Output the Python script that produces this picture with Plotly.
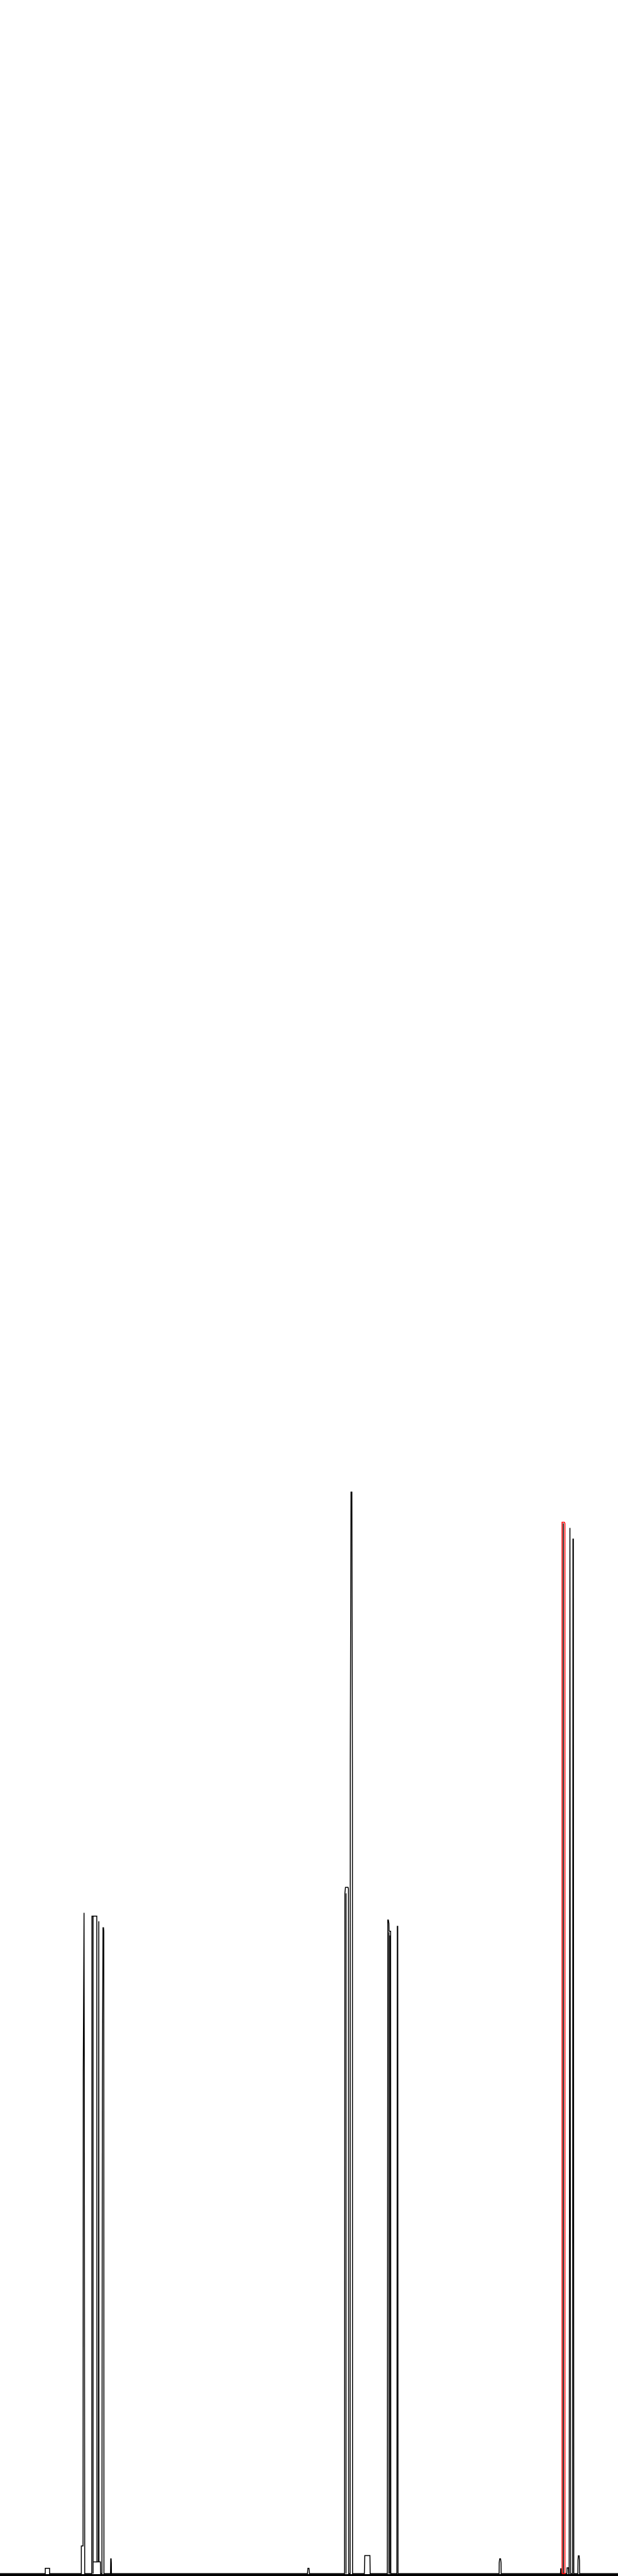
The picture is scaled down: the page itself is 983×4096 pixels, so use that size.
import plotly.graph_objects as go

# ---- data: profile spectrum (m/z vs relative intensity, %) ----
mz_main = [
    0, 105.5, 105.5, 115.5, 115.5,
    189.5, 189.5, 193.5, 194.0, 194.8, 195.8, 196.5, 197.2, 197.4,
    213.8, 214.3, 225.5, 226.0, 229.2, 229.6, 230.2, 230.6, 234.0, 234.4,
    237.5, 238.5, 240.0, 241.2, 241.8, 242.2,
    257.5, 258.0, 259.0, 259.5, 259.7,
    716.5, 717.5, 720.0, 721.0,
    802.8, 803.6, 805.0, 811.0, 812.0, 812.3,
    815.8, 816.2, 817.9, 819.9, 821.2, 821.5,
    849.0, 849.3, 850.0, 862.0, 862.5,
    902.5, 903.6, 905.0, 906.2, 906.5, 910.2, 910.6,
    924.8, 925.8, 926.8, 927.5,
    1163.0, 1163.2, 1164.3, 1166.5, 1167.5, 1167.8,
    1306.0, 1306.5, 1307.5, 1308.0,
    1312.6, 1312.7, 1312.8,
    1320.8, 1321.3, 1324.5, 1325.0,
    1326.2, 1327.0, 1328.0, 1329.6,
    1334.2, 1335.0, 1336.0, 1337.0,
    1346.5, 1346.8, 1347.5, 1349.5, 1350.2, 1350.5,
    1440,
]
int_main = [
    0, 0, 0.49, 0.49, 0,
    0, 2.55, 2.55, 46.5, 61.1, 61.1, 45.6, 2.55, 0,
    0, 60.79, 60.79, 1.08, 1.08, 60.31, 60.31, 1.08, 1.08, 0,
    0, 44.79, 59.72, 59.72, 59.40, 0,
    0, 1.36, 1.36, 0.96, 0,
    0, 0.49, 0.49, 0,
    0, 62.89, 63.45, 63.45, 63.29, 0,
    0, 74.80, 100.0, 100.0, 73.61, 0,
    0, 1.24, 1.66, 1.66, 0,
    0, 60.43, 60.43, 60.12, 59.40, 59.40, 0,
    0, 59.84, 59.84, 0,
    0, 1.00, 1.36, 1.36, 1.00, 0,
    0, 0.45, 0.45, 0,
    0, 97.11, 0,
    0, 0.53, 0.53, 0,
    0, 96.68, 96.68, 0,
    0, 95.65, 95.65, 0,
    0, 1.24, 1.64, 1.64, 1.24, 0,
    0,
]

# second (overlaid) black profile: extra narrow components
mz_overlay = [216.9, 216.9, None, 216.9, 226.0, None,
              806.3, 806.3, None,
              906.2, 906.2, None, 908.4, 908.4]
int_overlay = [0, 60.79, None, 1.08, 1.08, None,
               0, 62.9, None,
               0, 59.3, None, 0, 59.0]

# highlighted peak (red)
mz_hl = [1309.7, 1309.7, 1315.0, 1316.3, 1316.3, 1309.7]
int_hl = [0, 97.21, 97.21, 97.11, 0, 0]

X_RANGE = [0, 1440]
Y_RANGE = [-0.05, 237.96]

fig = go.Figure()
fig.add_trace(go.Scatter(x=mz_main, y=int_main, mode="lines",
                         line=dict(color="#000000", width=1.5),
                         hoverinfo="skip", showlegend=False))
fig.add_trace(go.Scatter(x=mz_overlay, y=int_overlay, mode="lines",
                         line=dict(color="#000000", width=1.5),
                         connectgaps=False, hoverinfo="skip", showlegend=False))
fig.add_trace(go.Scatter(x=mz_hl, y=int_hl, mode="lines",
                         line=dict(color="#ff0000", width=1.5),
                         hoverinfo="skip", showlegend=False))

fig.update_layout(
    width=983, height=4096,
    margin=dict(l=0, r=0, t=0, b=3, pad=0),
    paper_bgcolor="#ffffff", plot_bgcolor="#ffffff",
    showlegend=False,
    xaxis=dict(range=X_RANGE, showgrid=False, zeroline=False,
               showticklabels=False, ticks="", showline=True,
               linecolor="#000000", linewidth=3, fixedrange=True),
    yaxis=dict(range=Y_RANGE, showgrid=False, zeroline=False,
               showticklabels=False, ticks="", showline=False,
               fixedrange=True),
)

fig.write_html(
    "out.html",
    config={"displayModeBar": False},
    post_script="document.body.style.margin='0';document.body.style.padding='0';"
                "document.body.style.overflow='hidden';",
)
